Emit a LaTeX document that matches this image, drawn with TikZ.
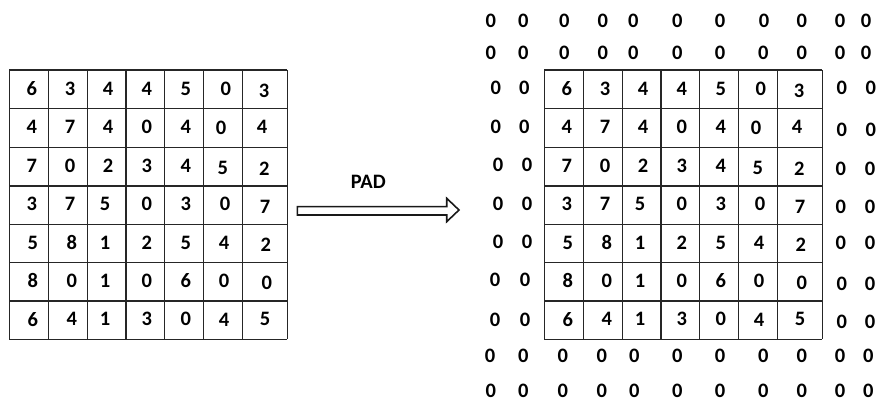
\documentclass[tikz,border=0pt]{standalone}
\usepackage{fontspec}
\setmainfont{Carlito}
\begin{document}
\begin{tikzpicture}[x=1pt,y=-1pt,
  num/.style={inner sep=0pt,font=\fontsize{20.5}{20.5}\selectfont\bfseries,text=black},
  gridline/.style={line width=1.3pt,draw=black!85},
  padarrow/.style={line width=1.6pt,draw=black!90,fill=white,line join=miter}]
\useasboundingbox (0,0) rectangle (879,401);
% grid lines
\foreach \ox in {0,535}{
  \foreach \yy in {70,108.3,147.3,186,224.3,262.7,301,339.3}
    \draw[gridline] (9.3+\ox,\yy) -- (287.3+\ox,\yy);
  \foreach \xx in {9.3,48.3,87.3,126,164.3,203.3,242.3,287.3}
    \draw[gridline] (\xx+\ox,70) -- (\xx+\ox,339.3);
}
% cell numbers
\foreach \v/\x/\y [count=\i] in {
 6/31.7/88.7,3/70/88.7,4/108/88.7,4/146.7/88.7,5/185.7/88.7,0/225.7/88.5,3/264/90.7,
 4/31.7/126.7,7/70/126.7,4/108/126.7,0/146.7/126.7,4/185.7/126.7,0/221/128.3,4/262/126.7,
 7/31.7/166,0/70/166,2/108/166,3/146.7/166,4/185.7/166,5/222.7/168.3,2/264.3/168.3,
 3/31.7/204,7/70/204,5/105/204,0/146.7/204,3/185.7/204,0/225/204,7/265/206.7,
 5/32.7/242.7,8/71.7/242.7,1/105/242.7,2/146.7/242.7,5/185.7/242.7,4/224/242.7,2/265.7/244.3,
 8/32.7/280.7,0/71.7/280.7,1/105/280.7,0/146.7/280.7,6/185.7/280.7,0/224/280.7,0/266.7/282.7,
 6/32.7/319.3,4/71.7/319.3,1/105/319.3,3/146.7/319.3,0/185.7/319.3,4/224/320,5/265/319.3}{
  \node[num] (L\i) at (\x,\y) {\v};
  \node[num] (R\i) at (\x+535,\y) {\v};
}
% padding zeros
\foreach \x/\y [count=\i] in {
 490.7/20.7,523.3/20.7,564.3/20.7,602.7/20.7,633.3/20.7,677.3/20.7,720/20.7,764/20.7,801.7/20.7,840/20.7,866/20.7,
 490.7/53.3,523.3/53.3,564.3/53.3,602.7/53.3,633.3/53.3,677.3/53.3,720/53.3,763.3/53.3,801.7/53.3,840/53.3,866/53.3,
 495.7/88.3,524.3/88.3,841.7/88.3,870.7/88.3,
 495.7/126.7,524.3/126.7,841.7/130,870.7/130,
 498/165,527/165,840.7/169,870/169,
 498/204,527/204,840.7/206.7,870/206.7,
 498/241.7,527/241.7,840.7/243.3,870/243.3,
 495/280.3,525/280.3,841.7/283.7,870/283.7,
 495/320.3,525/320.3,841.7/321.7,870/321.7,
 490/356,523.3/356,562.7/356,601.7/356,634.3/356,677.3/356,720/356,763.3/356,801.7/356,840/356,868.3/356,
 490.7/391,523.3/391,562.7/391,601.7/391,634.3/391,677.3/391,720/391,763.3/391,801.7/391,840/391,868.3/391}{
  \node[num] (Z\i) at (\x,\y) {0};
}
% PAD arrow
\draw[padarrow] (297.3,206.7) -- (446.7,206.7) -- (446.7,198.3) -- (459,210) -- (446.7,221.7) -- (446.7,215) -- (297.3,215) -- cycle;
\node[num] (pad) at (368.3,181.7) {PAD};
\end{tikzpicture}
\end{document}
